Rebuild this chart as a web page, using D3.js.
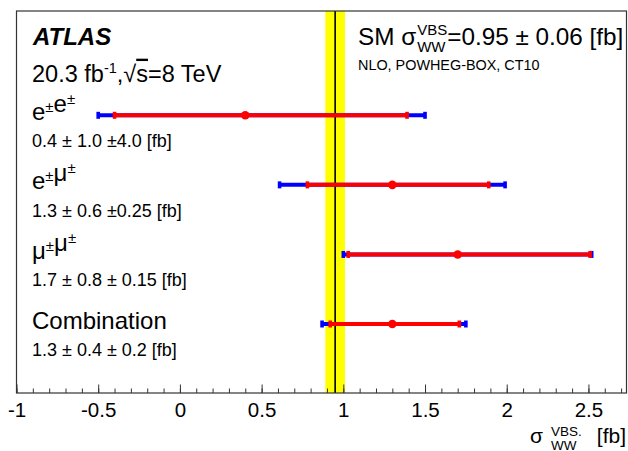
<!DOCTYPE html>
<html>
<head>
<meta charset="utf-8">
<script src="https://cdn.jsdelivr.net/npm/d3@7"></script>
<style>
  body { margin: 0; background: #fff; }
  svg { display: block; font-family: "Liberation Sans", Arial, Helvetica, sans-serif; }
</style>
</head>
<body>
<div id="chart"></div>
<script>
const channels = ["ee", "emu", "mumu", "comb"];
const central = [0.4, 1.3, 1.7, 1.3];
const statLo = [-0.40, 0.78, 1.03, 0.92];
const statHi = [1.39, 1.89, 2.51, 1.71];
const totLo = [-0.50, 0.61, 1.00, 0.87];
const totHi = [1.50, 1.99, 2.52, 1.75];
const resultText = ["0.4 ± 1.0 ±4.0 [fb]", "1.3 ± 0.6 ±0.25 [fb]", "1.7 ± 0.8 ± 0.15 [fb]", "1.3 ± 0.4 ± 0.2 [fb]"];
const smValue = 0.95, smErr = 0.06;
const xTicks = [-1, -0.5, 0, 0.5, 1, 1.5, 2, 2.5];

var width = 628, height = 451;
var plotLeft = 16.5, plotRight = 626.5, plotTop = 11, plotBottom = 393;

var svg = d3.select("#chart").append("svg")
    .attr("width", width)
    .attr("height", height);

var x = d3.scaleLinear().domain([-1, 2.733]).range([plotLeft, plotRight]);
var y = d3.scalePoint().domain(channels).range([115.3, 324]);

// SM band + line
svg.append("rect")
    .attr("x", x(smValue - smErr))
    .attr("y", plotTop)
    .attr("width", x(smValue + smErr) - x(smValue - smErr))
    .attr("height", plotBottom - plotTop)
    .attr("fill", "#ffff00");
svg.append("line")
    .attr("x1", x(smValue)).attr("x2", x(smValue))
    .attr("y1", plotTop).attr("y2", plotBottom)
    .attr("stroke", "#000").attr("stroke-width", 1.6);

// frame
svg.append("rect")
    .attr("x", plotLeft).attr("y", plotTop)
    .attr("width", plotRight - plotLeft).attr("height", plotBottom - plotTop)
    .attr("fill", "none").attr("stroke", "#333").attr("stroke-width", 1.2);

// axis
var minor = d3.range(-10, 28).map(function (i) { return i / 10; });
svg.append("g")
    .attr("transform", "translate(0," + plotBottom + ")")
    .call(d3.axisBottom(x).tickValues(minor).tickSizeInner(-4.5).tickSizeOuter(0).tickFormat(""))
    .call(g => g.select(".domain").remove())
    .selectAll("line").attr("stroke", "#333");
svg.append("g")
    .attr("transform", "translate(0," + plotBottom + ")")
    .call(d3.axisBottom(x).tickValues(xTicks).tickSizeInner(-8.5).tickSizeOuter(0).tickPadding(9.4)
        .tickFormat(function (d) { return String(d); }))
    .call(g => g.select(".domain").remove())
    .call(g => g.selectAll("line").attr("stroke", "#333"))
    .selectAll("text")
    .attr("font-size", "20.5px")
    .attr("font-family", "Liberation Sans, Arial, sans-serif")
    .attr("fill", "#000");

// error bars
var idx = d3.range(channels.length);
function bars(lo, hi, color) {
    svg.selectAll(null).data(idx).enter().append("line")
        .attr("x1", function (i) { return x(lo[i]); })
        .attr("x2", function (i) { return x(hi[i]); })
        .attr("y1", function (i) { return y(channels[i]); })
        .attr("y2", function (i) { return y(channels[i]); })
        .attr("stroke", color).attr("stroke-width", 4);
    [lo, hi].forEach(function (arr) {
        svg.selectAll(null).data(idx).enter().append("rect")
            .attr("x", function (i) { return x(arr[i]) - 1.8; })
            .attr("y", function (i) { return y(channels[i]) - 3.5; })
            .attr("width", 3.6).attr("height", 7)
            .attr("fill", color);
    });
}
bars(totLo, totHi, "#0000ff");
bars(statLo, statHi, "#ff0000");
svg.selectAll(".dot").data(idx).enter().append("circle")
    .attr("class", "dot")
    .attr("cx", function (i) { return x(central[i]); })
    .attr("cy", function (i) { return y(channels[i]); })
    .attr("r", 4.3)
    .attr("fill", "#ff0000");

// channel labels
function pmLabel(t, parts) {
    parts.forEach(function (p) {
        if (p === "±") {
            t.append("tspan").attr("font-size", "15px").attr("dy", -8).text("±");
            t.append("tspan").attr("dy", 8).text("");
        } else {
            t.append("tspan").text(p);
        }
    });
}
var labelParts = [["e", "±", "e", "±"], ["e", "±", "μ", "±"], ["μ", "±", "μ", "±"], ["Combination"]];
idx.forEach(function (i) {
    var t = svg.append("text")
        .attr("x", 32)
        .attr("y", y(channels[i]) + 4.5)
        .attr("font-size", "24px")
        .attr("fill", "#000");
    pmLabel(t, labelParts[i]);
    svg.append("text")
        .attr("x", 32)
        .attr("y", y(channels[i]) + 31.8)
        .attr("font-size", "18px")
        .attr("fill", "#000")
        .text(resultText[i]);
});

// ATLAS header
svg.append("text")
    .attr("x", 33).attr("y", 45)
    .attr("font-size", "24px")
    .attr("font-weight", "bold").attr("font-style", "italic")
    .text("ATLAS");

var lumi = svg.append("text")
    .attr("x", 32).attr("y", 81.7)
    .attr("font-size", "23.5px");
lumi.append("tspan").text("20.3 fb");
lumi.append("tspan").attr("font-size", "14.5px").attr("dy", -9).text("-1");
lumi.append("tspan").attr("dy", 9).text(",√");
lumi.append("tspan").style("text-decoration", "overline").text("s");
lumi.append("tspan").text("=8 TeV");

// SM prediction text
var sm1 = svg.append("text").attr("x", 358).attr("y", 45).attr("font-size", "24.3px").text("SM σ");
var px = 358 + sm1.node().getComputedTextLength() + 1;
var sup = svg.append("text").attr("x", px).attr("y", 34.5).attr("font-size", "15px").text("VBS");
svg.append("text").attr("x", px).attr("y", 51.5).attr("font-size", "15px").text("WW");
px += sup.node().getComputedTextLength();
svg.append("text").attr("x", px).attr("y", 45).attr("font-size", "24.3px").text("=0.95 ± 0.06 [fb]");
svg.append("text").attr("x", 358).attr("y", 70).attr("font-size", "14.4px").text("NLO, POWHEG-BOX, CT10");

// x axis title
var t1 = svg.append("text").attr("x", 530).attr("y", 443).attr("font-size", "21px").text("σ");
var ax = 530 + t1.node().getComputedTextLength() + 8;
svg.append("text").attr("x", ax).attr("y", 436).attr("font-size", "13.5px").text("VBS.");
svg.append("text").attr("x", ax).attr("y", 449.5).attr("font-size", "13.5px").text("WW");
svg.append("text").attr("x", 626).attr("y", 443).attr("font-size", "21px")
    .attr("text-anchor", "end").text("[fb]");
</script>
</body>
</html>
